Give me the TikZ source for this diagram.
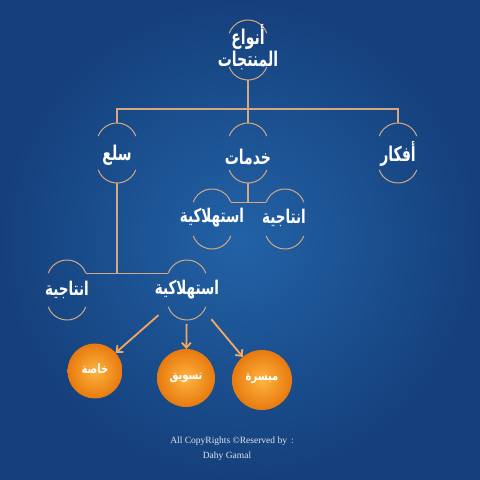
\documentclass[tikz,border=0pt]{standalone}
\usepackage{fontspec}
\setmainfont{Liberation Serif}
\newfontfamily\arabicfont[Script=Arabic]{DejaVu Sans}
\TeXXeTstate=1
\usetikzlibrary{arrows.meta,shapes.geometric}
\definecolor{bgIn}{RGB}{34,98,166}
\definecolor{bgOut}{RGB}{21,64,124}
\definecolor{lineC}{RGB}{214,168,130}
\definecolor{arrC}{RGB}{242,168,96}
\definecolor{oIn}{RGB}{255,180,64}
\definecolor{oOut}{RGB}{232,122,14}
\definecolor{copyC}{RGB}{225,228,235}
\begin{document}
\begin{tikzpicture}[x=1pt,y=1pt,
  ring/.style={ellipse,minimum width=38pt,minimum height=60pt,inner sep=0pt,outer sep=0pt,draw=none},
  lbl/.style={text=white,font=\arabicfont\bfseries\fontsize{14}{13}\selectfont,inner sep=0pt,align=center,yscale=1.45,transform shape},
  sublbl/.style={text=white,font=\arabicfont\bfseries\fontsize{13.5}{16}\selectfont,inner sep=0pt,yscale=1.4,transform shape},
  arcline/.style={draw=lineC,line width=1pt},
  conn/.style={draw=lineC,line width=1.2pt},
  arr/.style={draw=arrC,line width=1.8pt,-{Straight Barb[length=5pt,width=9pt]}},
  ball/.style={circle,inner sep=0pt,outer sep=0pt,shading=radial,inner color=oIn,outer color=oOut},
  balltxt/.style={text=white,font=\arabicfont\bfseries\fontsize{10}{11}\selectfont,inner sep=0pt,yscale=1.3,transform shape},
  copytxt/.style={text=copyC,font=\fontsize{9.5}{11}\selectfont,inner sep=0pt}]
\shade[inner color=bgIn,outer color=bgOut] (0,0) rectangle (480,480);
\useasboundingbox (0,0) rectangle (480,480);
% rings
\node[ring] (TR) at (248,430) {};
\node[ring] (sR) at (117,327) {};
\node[ring] (kR) at (248,327) {};
\node[ring] (fR) at (398,327) {};
\node[ring] (k1R) at (212,261) {};
\node[ring] (k2R) at (285,261) {};
\node[ring] (s1R) at (67,190) {};
\node[ring] (s2R) at (187,190) {};
\foreach \n in {TR,sR,kR,fR,k1R,k2R,s1R,s2R}{
  \draw[arcline] ([shift={(18.8,16.84)}]\n.center) arc[start angle=20,end angle=160,radius=20];
  \draw[arcline] ([shift={(-18.8,-16.84)}]\n.center) arc[start angle=200,end angle=340,radius=20];
}
% labels
\node[lbl] (T) at (248,433) {\beginR أنواع\endR\\\beginR المنتجات\endR};
\node[lbl] (s) at (117,325) {\beginR سلع\endR};
\node[lbl] (k) at (248,323) {\beginR خدمات\endR};
\node[lbl] (f) at (398,326) {\beginR أفكار\endR};
\node[sublbl] (k1) at (212,262) {\beginR استهلاكية\endR};
\node[sublbl] (k2) at (284,262) {\beginR انتاجية\endR};
\node[sublbl] (s1) at (67,190) {\beginR انتاجية\endR};
\node[sublbl] (s2) at (187,190) {\beginR استهلاكية\endR};
% connectors
\coordinate (bar) at (248,371);
\draw[conn] (sR.north) |- (bar) -| (fR.north);
\draw[conn] (TR.south) -- (kR.north);
\coordinate (kj) at ([shift={(0,16.84)}]kR.center |- k1R.center);
\draw[conn] (kR.south) -- (kj);
\draw[conn] ([shift={(18.8,16.84)}]k1R.center) -- ([shift={(-18.8,16.84)}]k2R.center);
\coordinate (sj) at ([shift={(0,16.84)}]sR.center |- s1R.center);
\draw[conn] (sR.south) -- (sj);
\draw[conn] ([shift={(18.8,16.84)}]s1R.center) -- ([shift={(-18.8,16.84)}]s2R.center);
% balls
\node[ball,minimum size=55pt] (o1) at (95,109) {};
\node[ball,minimum size=58pt] (o2) at (186,102) {};
\node[ball,minimum size=60pt] (o3) at (262,100) {};
\node[balltxt] at (95,111) {\beginR خاصة\endR};
\node[balltxt] at (186,102) {\beginR تسويق\endR};
\node[balltxt] at (262,101) {\beginR ميسرة\endR};
\draw[arr,shorten <=38pt] (s2R.center) -- (o1);
\draw[arr,shorten <=34pt] (s2R.center) -- (o2);
\draw[arr,shorten <=38pt] (s2R.center) -- (o3);
% copyright
\node[copytxt] (c1) at (232,39) {All CopyRights ©Reserved by \,:};
\node[copytxt] (c2) at (227,24) {Dahy Gamal};
\end{tikzpicture}
\end{document}
